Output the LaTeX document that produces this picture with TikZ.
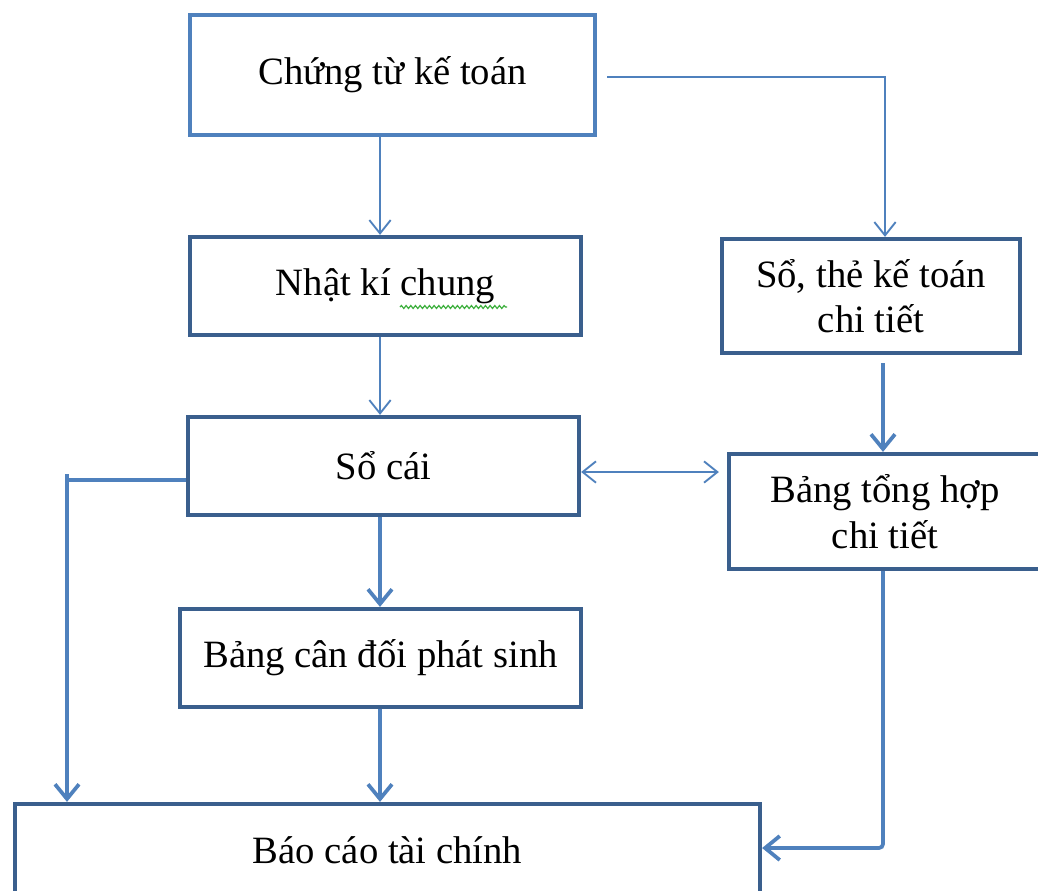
\documentclass[tikz,border=0pt]{standalone}
\usepackage{fontspec}
\setmainfont{Liberation Serif}
\usetikzlibrary{arrows.meta,decorations.pathmorphing}
\definecolor{boxedge}{HTML}{3A5F8D}
\definecolor{topedge}{HTML}{4F81BD}
\definecolor{flow}{HTML}{4F81BD}
\definecolor{spell}{HTML}{3DAF3D}
\begin{document}
\begin{tikzpicture}[x=0.75pt,y=-0.75pt,
  box/.style={draw=boxedge,line width=3.2pt,fill=white,inner sep=0pt,
    align=center,font=\fontsize{29}{34}\selectfont},
  thinflow/.style={draw=flow,line width=1.4pt,-{Straight Barb[length=10pt,width=16pt,line width=1.4pt]}},
  biflow/.style={draw=flow,line width=1.4pt,
    {Straight Barb[length=10pt,width=16pt,line width=1.4pt]}-{Straight Barb[length=10pt,width=16pt,line width=1.4pt]}},
  thickflow/.style={draw=flow,line width=2.8pt,-{Straight Barb[length=11pt,width=18pt,line width=2.8pt]}},
  thickline/.style={draw=flow,line width=2.8pt}]
\useasboundingbox (0,0) rectangle (1038,890);
\clip (0,0) rectangle (1038,890);
\fill[white] (0,0) rectangle (1038,890);

% boxes
\node[box,draw=topedge,line width=2.6pt,minimum width=405*0.75pt,minimum height=120*0.75pt]
  (b1) at (392.5,75) {\raisebox{-3pt}{Chứng từ kế toán}};
\node[box,minimum width=391*0.75pt,minimum height=98*0.75pt]
  (b2) at (385.5,286) {Nhật kí chung};
\node[box,minimum width=391*0.75pt,minimum height=98*0.75pt]
  (b3) at (383.5,466) {Sổ cái};
\node[box,minimum width=298*0.75pt,minimum height=114*0.75pt]
  (b4) at (871,296) {Sổ, thẻ kế toán\\chi tiết};
\node[box,minimum width=312*0.75pt,minimum height=115*0.75pt]
  (b5) at (885,511.5) {Bảng tổng hợp\\chi tiết};
\node[box,minimum width=401*0.75pt,minimum height=98*0.75pt]
  (b6) at (380.5,658) {Bảng cân đối phát sinh};
\node[box,minimum width=745*0.75pt,minimum height=92*0.75pt]
  (b7) at (387.5,850) {Báo cáo tài chính};

% spell-check squiggle under "chung"
\draw[spell,line width=0.9pt,decorate,decoration={snake,amplitude=1.1pt,segment length=3.5pt}]
  (400,307) -- (507,307);

% guide coordinates
\coordinate (c380) at (380,0);
\coordinate (c885) at (885,77);
\coordinate (c883) at (883,0);
\coordinate (c472) at (0,472);
\coordinate (lcorner) at (67,480);
\coordinate (ltick) at (67,474);
\coordinate (rcorner) at (883,848);

% connectors
\draw[thinflow] (b1.south -| c380) -- (b2.north -| c380);
\draw[thinflow,shorten <=8pt] (b1.east |- c885) -- (c885) -- (b4.north -| c885);
\draw[thinflow] (b2.south -| c380) -- (b3.north -| c380);
\draw[thickflow,shorten <=6pt] (b4.south -| c883) -- (b5.north -| c883);
\draw[biflow,shorten >=6pt] (b3.east |- c472) -- (b5.west |- c472);
\draw[thickflow] (b3.south -| c380) -- (b6.north -| c380);
\draw[thickline] (b3.west |- lcorner) -- (lcorner);
\draw[thickflow] (ltick) -- (b7.north -| ltick);
\draw[thickflow] (b6.south -| c380) -- (b7.north -| c380);
\draw[thickflow,rounded corners=3pt] (b5.south -| rcorner) -- (rcorner) -- (b7.east |- rcorner);
\end{tikzpicture}
\end{document}
